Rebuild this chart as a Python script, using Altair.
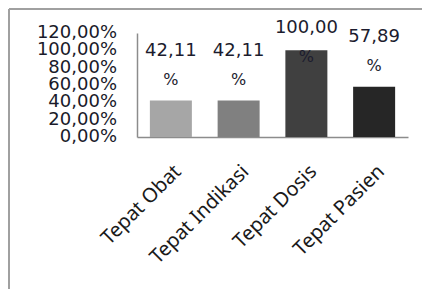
import altair as alt
import pandas as pd

categories = ["Tepat Obat", "Tepat Indikasi", "Tepat Dosis", "Tepat Pasien"]
values = [0.4211, 0.4211, 1.0, 0.5789]
labels = ["42,11", "42,11", "100,00", "57,89"]
bar_colors = ["#a6a6a6", "#808080", "#404040", "#262626"]
y_ticks = [0, 0.2, 0.4, 0.6, 0.8, 1.0, 1.2]
y_tick_labels = ["0,00%", "20,00%", "40,00%", "60,00%", "80,00%", "100,00%", "120,00%"]

df = pd.DataFrame({"cat": categories, "val": values, "lab": labels})
ticks_df = pd.DataFrame({"tick": y_ticks, "tlab": y_tick_labels})

x_enc = alt.X("cat:N", sort=categories,
              scale=alt.Scale(paddingInner=0.38, paddingOuter=0.19),
              axis=alt.Axis(title=None, labelAngle=-45, labelAlign="right",
                            labelBaseline="top", labelPadding=24, ticks=False,
                            labelFont="Noto Sans", labelFontSize=20,
                            labelColor="#1a1a1a", domainColor="#8c8c8c",
                            domainWidth=1.5))
y_scale = alt.Scale(domain=[0, 1.2])

bars = alt.Chart(df).mark_bar().encode(
    x=x_enc,
    y=alt.Y("val:Q", scale=y_scale,
            axis=alt.Axis(title=None, values=y_ticks, grid=False, ticks=False,
                          labels=False, domainColor="#8c8c8c", domainWidth=1.5)),
    color=alt.Color("cat:N", sort=categories,
                    scale=alt.Scale(domain=categories, range=bar_colors),
                    legend=None),
)

ytxt = alt.Chart(ticks_df).mark_text(font="DejaVu Sans", fontSize=18, color="#1a1a2a",
                                     align="right", baseline="middle").encode(
    x=alt.value(-20), y=alt.Y("tick:Q", scale=y_scale), text="tlab:N")

base_txt = alt.Chart(df).transform_calculate(pos="min(datum.val, 0.68)")
num_txt = base_txt.mark_text(font="DejaVu Sans", fontSize=18, color="#1c1c2e",
                             baseline="alphabetic", dy=-45).encode(
    x=alt.X("cat:N", sort=categories), y=alt.Y("pos:Q", scale=y_scale), text="lab:N")
pct_txt = base_txt.mark_text(font="DejaVu Sans", fontSize=16, color="#1c1c2e",
                             baseline="alphabetic", dy=-16, text="%").encode(
    x=alt.X("cat:N", sort=categories), y=alt.Y("pos:Q", scale=y_scale))

frame_data = alt.Data(values=[{"a": 1}])
frame_top = alt.Chart(frame_data).mark_rule(color="#a0a0a0", strokeWidth=2).encode(
    x=alt.value(-128), x2=alt.value(400), y=alt.value(-24))
frame_left = alt.Chart(frame_data).mark_rule(color="#a0a0a0", strokeWidth=2).encode(
    x=alt.value(-128), y=alt.value(-24), y2=alt.value(400))

chart = alt.layer(frame_top, frame_left, bars, ytxt, num_txt, pct_txt).properties(
    width=271, height=104,
    autosize=alt.AutoSizeParams(type="none"),
    padding={"left": 129, "top": 25, "right": 14, "bottom": 152},
).configure_view(stroke=None)

chart.save("out.html", embed_options={"renderer": "svg", "actions": False})
